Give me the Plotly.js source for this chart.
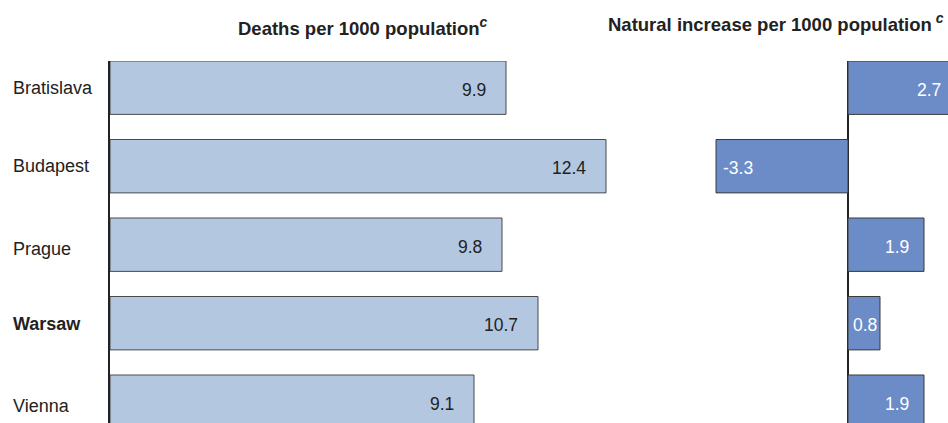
<!DOCTYPE html>
<html>
<head>
<meta charset="utf-8">
<script src="https://cdn.plot.ly/plotly-3.0.1.min.js"></script>
<style>
html,body{margin:0;padding:0;overflow:hidden;background:#fff;}
#chart{width:980px;height:423px;}
</style>
</head>
<body>
<div id="chart"></div>
<script>
// ---- data ----
const cities = ["Bratislava", "Budapest", "Prague", "Warsaw", "Vienna"];
const cityLabels = ["Bratislava", "Budapest", "Prague", "<b>Warsaw</b>", "Vienna"];
const deaths = [9.9, 12.4, 9.8, 10.7, 9.1];
const naturalIncrease = [2.7, -3.3, 1.9, 0.8, 1.9];
const deathsTitle = "Deaths per 1000 population<sup><span style='font-size:14px'><i>c</i></span></sup>";
const increaseTitle = "Natural increase per 1000 population<sup><span style='font-size:14px'><i> c</i></span></sup>";

// ---- layout helpers (page is 980 wide, window clips at 948) ----
const W = 980, H = 423;
const FONT = "Liberation Sans, Arial, sans-serif";
const plotTop = 61;
const ydom = [0, 1 - plotTop / H];
const pxPerUnit = 40;

const traces = [
  {
    type: "bar", orientation: "h",
    x: deaths, y: cities,
    xaxis: "x", yaxis: "y",
    width: 0.68,
    marker: {color: "#b3c8e0", line: {color: "#4a4a4a", width: 1}},
    hoverinfo: "none", cliponaxis: false
  },
  {
    type: "bar", orientation: "h",
    x: naturalIncrease, y: cities,
    xaxis: "x2", yaxis: "y2",
    width: 0.68,
    marker: {color: "#6b8cc7", line: {color: "#3a3a3a", width: 1}},
    hoverinfo: "none", cliponaxis: false
  }
];

const annotations = [];
const VSIZE = 17.5;
// value labels
deaths.forEach((v, i) => {
  annotations.push({
    x: v, y: cities[i], xref: "x", yref: "y",
    text: v.toFixed(1), showarrow: false,
    xanchor: "right", xshift: -18, yshift: -2,
    font: {family: FONT, size: VSIZE, color: "#222"}
  });
});
naturalIncrease.forEach((v, i) => {
  const small = Math.abs(v) * pxPerUnit < 50;
  annotations.push({
    x: small ? v / 2 : v, y: cities[i], xref: "x2", yref: "y2",
    text: v.toFixed(1), showarrow: false,
    xanchor: small ? "center" : (v < 0 ? "left" : "right"),
    xshift: small ? 1 : (v < 0 ? 5 : -13), yshift: -2,
    font: {family: FONT, size: VSIZE, color: "#ffffff"}
  });
});
// category labels
const labelDy = [0, 0, -4, -1, -4];
cities.forEach((c, i) => {
  annotations.push({
    x: 11 / W, y: c, xref: "paper", yref: "y",
    text: cityLabels[i], showarrow: false,
    xanchor: "left", yshift: labelDy[i],
    font: {family: FONT, size: 18, color: "#222"}
  });
});
// panel titles
annotations.push({
  x: 236 / W, y: 1 - 27 / H, xref: "paper", yref: "paper",
  text: deathsTitle, showarrow: false, xanchor: "left", yanchor: "middle",
  font: {family: FONT, size: 18.5, color: "#222", weight: "bold"}
});
annotations.push({
  x: 606 / W, y: 1 - 23 / H, xref: "paper", yref: "paper",
  text: increaseTitle, showarrow: false, xanchor: "left", yanchor: "middle",
  font: {family: FONT, size: 18.5, color: "#222", weight: "bold"}
});

const x1Start = 110, x1End = 660;
const x2Start = 690, x2Zero = 848, x2End = W;

const axisCommon = {showgrid: false, showticklabels: false, ticks: "", fixedrange: true};

const layout = {
  width: W, height: H,
  margin: {l: 0, r: 0, t: 0, b: 0, pad: 0},
  paper_bgcolor: "#fff", plot_bgcolor: "rgba(0,0,0,0)",
  showlegend: false,
  xaxis: Object.assign({}, axisCommon, {
    domain: [x1Start / W, x1End / W],
    range: [0, (x1End - x1Start) / pxPerUnit],
    zeroline: false, showline: false, anchor: "y"
  }),
  yaxis: Object.assign({}, axisCommon, {
    domain: ydom, type: "category",
    range: [-0.34 + (H - plotTop) / 78.5, -0.34],
    showline: true, linecolor: "#222", linewidth: 2, anchor: "x"
  }),
  xaxis2: Object.assign({}, axisCommon, {
    domain: [x2Start / W, x2End / W],
    range: [(x2Start - x2Zero) / pxPerUnit, (x2End - x2Zero) / pxPerUnit],
    zeroline: true, zerolinecolor: "#222", zerolinewidth: 2,
    showline: false, anchor: "y2"
  }),
  yaxis2: Object.assign({}, axisCommon, {
    domain: ydom, type: "category",
    range: [-0.34 + (H - plotTop) / 78.5, -0.34],
    showline: false, anchor: "x2"
  }),
  annotations: annotations
};

Plotly.newPlot("chart", traces, layout, {displayModeBar: false, staticPlot: true});
</script>
</body>
</html>
